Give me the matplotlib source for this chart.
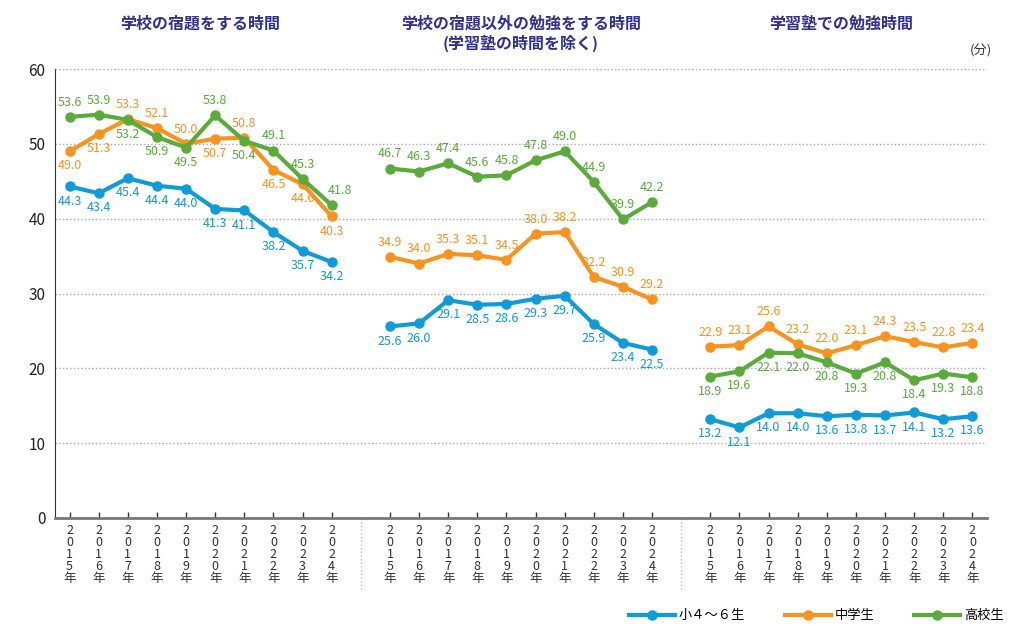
import matplotlib
matplotlib.use('Agg')
import matplotlib.pyplot as plt

plt.rcParams['font.family'] = ['Noto Sans CJK JP', 'DejaVu Sans']

years = list(range(2015, 2025))
year_labels = ['\n'.join(str(y) + '年') for y in years]

panel_titles = ['学校の宿題をする時間',
                '学校の宿題以外の勉強をする時間\n(学習塾の時間を除く)',
                '学習塾での勉強時間']
series_names = ['小４～６生', '中学生', '高校生']

# 学校の宿題
hw_elem = [44.3, 43.4, 45.4, 44.4, 44.0, 41.3, 41.1, 38.2, 35.7, 34.2]
hw_jhs = [49.0, 51.3, 53.3, 52.1, 50.0, 50.7, 50.8, 46.5, 44.6, 40.3]
hw_hs = [53.6, 53.9, 53.2, 50.9, 49.5, 53.8, 50.4, 49.1, 45.3, 41.8]
# 宿題以外の勉強
self_elem = [25.6, 26.0, 29.1, 28.5, 28.6, 29.3, 29.7, 25.9, 23.4, 22.5]
self_jhs = [34.9, 34.0, 35.3, 35.1, 34.5, 38.0, 38.2, 32.2, 30.9, 29.2]
self_hs = [46.7, 46.3, 47.4, 45.6, 45.8, 47.8, 49.0, 44.9, 39.9, 42.2]
# 学習塾
juku_elem = [13.2, 12.1, 14.0, 14.0, 13.6, 13.8, 13.7, 14.1, 13.2, 13.6]
juku_jhs = [22.9, 23.1, 25.6, 23.2, 22.0, 23.1, 24.3, 23.5, 22.8, 23.4]
juku_hs = [18.9, 19.6, 22.1, 22.0, 20.8, 19.3, 20.8, 18.4, 19.3, 18.8]

panels = [[hw_elem, hw_jhs, hw_hs],
          [self_elem, self_jhs, self_hs],
          [juku_elem, juku_jhs, juku_hs]]

colors = ['#0f9bd7', '#f7931e', '#5aaa3c']
title_color = '#2e3192'

# label side: 1 = above, -1 = below
sides = [
    [[-1] * 10,
     [-1, -1, 1, 1, 1, -1, 1, -1, -1, -1],
     [1, 1, -1, -1, -1, 1, -1, 1, 1, 1]],
    [[-1] * 10, [1] * 10, [1] * 10],
    [[-1] * 10, [1] * 10, [-1] * 10],
]

fig = plt.figure(figsize=(10.21, 6.34), dpi=100)
ax = fig.add_axes([55 / 1021, 1 - 518 / 634, 932 / 1021, 449 / 634])

step = 11
for p, data in enumerate(panels):
    xs = [p * step + i for i in range(10)]
    for s, vals in enumerate(data):
        ax.plot(xs, vals, '-o', color=colors[s], lw=3, ms=6.5,
                label=series_names[s] if p == 0 else None, zorder=3)
        for i, (x, v) in enumerate(zip(xs, vals)):
            side = sides[p][s][i]
            dx = 0
            if p == 0 and s == 2 and i == 9:
                dx = 6
            ax.annotate(f'{v:.1f}', (x, v), xytext=(dx, 10.5 * side),
                        textcoords='offset points', ha='center', va='center',
                        color=colors[s], fontsize=9)
    cx = p * step + 4.5
    ax.text(cx, 1 + 53 / 449, panel_titles[p],
            transform=ax.get_xaxis_transform(), ha='center', va='top',
            fontsize=11.5, fontweight='bold', color=title_color, linespacing=1.2)

# dividers between panels
for d in [10, 21]:
    ax.plot([d, d], [0, -9.5], ls=':', color='#bbbbbb', lw=1, clip_on=False)

ax.text(31.3, 61.5, '(分)', ha='center', va='bottom', fontsize=9.5, color='#333333')

ax.set_xlim(-0.5, 31.5)
ax.set_ylim(0, 60)
ax.set_yticks(range(0, 61, 10))
ax.tick_params(axis='y', length=0, labelsize=11, pad=7, colors='#222222')
xt = [p * step + i for p in range(3) for i in range(10)]
ax.set_xticks(xt)
ax.set_xticklabels(year_labels * 3, fontsize=9, linespacing=0.92)
ax.tick_params(axis='x', direction='in', length=4, width=1, pad=4, colors='#333333')
ax.yaxis.grid(True, ls=':', color='#aaaaaa', lw=1)
ax.set_axisbelow(True)
for sp in ['top', 'right']:
    ax.spines[sp].set_visible(False)
ax.spines['left'].set_color('#333333')
ax.spines['bottom'].set_color('#777777')
ax.spines['bottom'].set_linewidth(2)

fig.legend(loc='lower right', bbox_to_anchor=(0.995, 0.0), ncol=3, frameon=False,
           fontsize=9.5, handlelength=3.5, columnspacing=3, handletextpad=0.3)

fig.savefig('out.png', dpi=100)
